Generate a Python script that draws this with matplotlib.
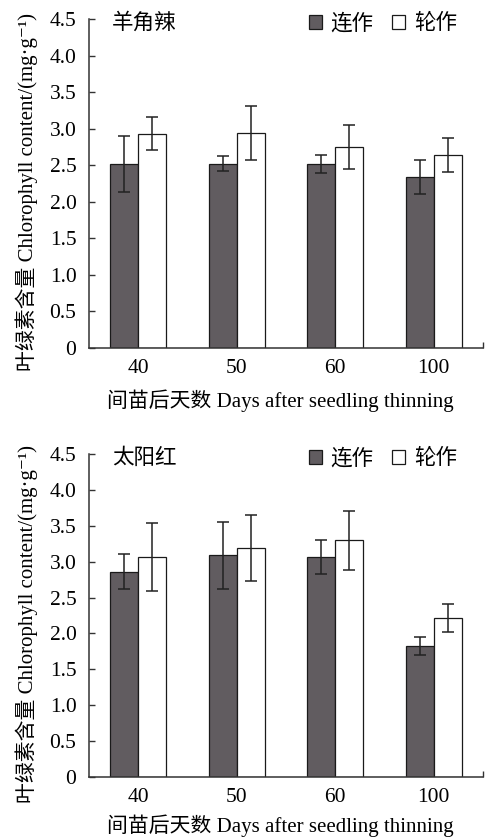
import matplotlib
matplotlib.use('Agg')
import matplotlib.pyplot as plt
from matplotlib.patches import Patch
import numpy as np

plt.rcParams['font.family'] = ['Liberation Serif', 'Noto Sans CJK SC', 'DejaVu Serif']

# 间苗后天数
days = ['40', '50', '60', '100']
series = ['连作', '轮作']

# 羊角辣
yjl_lianzuo = [2.52, 2.52, 2.52, 2.34]
yjl_lianzuo_sd = [0.38, 0.10, 0.125, 0.23]
yjl_lunzuo = [2.93, 2.94, 2.75, 2.64]
yjl_lunzuo_sd = [0.225, 0.365, 0.295, 0.235]

# 太阳红
tyh_lianzuo = [2.86, 3.09, 3.07, 1.82]
tyh_lianzuo_sd = [0.24, 0.465, 0.235, 0.125]
tyh_lunzuo = [3.07, 3.19, 3.30, 2.22]
tyh_lunzuo_sd = [0.475, 0.46, 0.41, 0.195]

dark = '#615c60'
axcol = '#333333'

W, H = 489, 840
fig = plt.figure(figsize=(W/100, H/100), dpi=100)


def panel(top, bottom, name, v1, e1, v2, e2, xlab_y):
    ax = fig.add_axes([89/W, (H-bottom)/H, (483-89)/W, (bottom-top)/H])
    x = np.arange(len(days))
    bw = 0.285
    ekw = dict(ecolor='#222222', elinewidth=1.1, capsize=4.5, capthick=1.1)
    ax.bar(x - bw/2, v1, bw, color=dark, edgecolor='#1a1a1a', linewidth=0.9,
           yerr=e1, error_kw=ekw, zorder=2)
    ax.bar(x + bw/2, v2, bw, color='white', edgecolor='#1a1a1a', linewidth=0.9,
           yerr=e2, error_kw=ekw, zorder=2)
    ax.set_xlim(-0.5, 3.5)
    ax.set_ylim(0, 4.5)
    ax.set_xticks(x)
    ax.set_xticklabels(days)
    ax.set_xticks([3.5], minor=True)
    yt = np.arange(0, 4.51, 0.5)
    ax.set_yticks(yt)
    ax.set_yticklabels(['0'] + ['%.1f' % v for v in yt[1:]])
    ax.tick_params(axis='x', which='major', length=0, pad=8, labelsize=15.5)
    ax.tick_params(axis='x', which='minor', direction='in', length=4,
                   width=1, color=axcol)
    ax.tick_params(axis='y', direction='in', length=4, width=1, color=axcol,
                   pad=9, labelsize=15.5)
    for s in ['top', 'right']:
        ax.spines[s].set_visible(False)
    for s in ['left', 'bottom']:
        ax.spines[s].set_color(axcol)
        ax.spines[s].set_linewidth(1.1)
    ax.set_ylabel('叶绿素含量 Chlorophyll content/(mg·g⁻¹)', fontsize=15)
    ax.yaxis.set_label_coords(-0.13, 0.475)
    fig.text(280/W, (H-xlab_y)/H, '间苗后天数 Days after seedling thinning',
             fontsize=15, ha='center', va='center')
    ax.text(0.058, 0.985, name, transform=ax.transAxes, fontsize=15.5,
            va='center', ha='left')
    handles = [Patch(facecolor=dark, edgecolor='#1a1a1a', linewidth=0.9),
               Patch(facecolor='white', edgecolor='#1a1a1a', linewidth=0.9)]
    ax.legend(handles, series, loc='center left', bbox_to_anchor=(0.558, 0.985),
              ncol=2, frameon=False, fontsize=15.5, handlelength=0.62,
              handleheight=0.62, handletextpad=0.4, columnspacing=0.85,
              borderaxespad=0, borderpad=0)
    return ax


panel(19, 348, '羊角辣', yjl_lianzuo, yjl_lianzuo_sd, yjl_lunzuo, yjl_lunzuo_sd, 401)
panel(454, 777, '太阳红', tyh_lianzuo, tyh_lianzuo_sd, tyh_lunzuo, tyh_lunzuo_sd, 826)

fig.savefig('out.png', dpi=100)
